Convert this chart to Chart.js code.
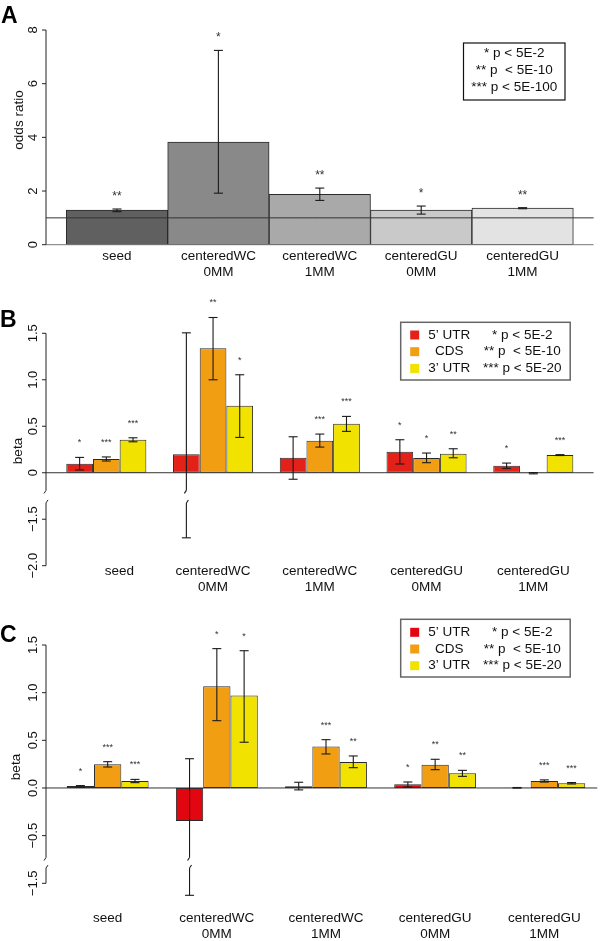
<!DOCTYPE html>
<html>
<head>
<meta charset="utf-8">
<title>odds ratio and beta by site type</title>
<script src="https://cdn.jsdelivr.net/npm/chart.js@4.4.1/dist/chart.umd.min.js"></script>
<style>
  html, body { margin: 0; padding: 0; background: #fff; }
  #page { position: relative; width: 600px; height: 941px; overflow: hidden; }
  .panel { position: absolute; left: 0; width: 600px; }
</style>
</head>
<body>
<div id="page">
  <div class="panel" style="top:0;height:290px"><canvas id="chartA"></canvas></div>
  <div class="panel" style="top:290px;height:320px"><canvas id="chartB"></canvas></div>
  <div class="panel" style="top:610px;height:331px"><canvas id="chartC"></canvas></div>
</div>
<script>
const FONT = "'Liberation Sans', Arial, Helvetica, sans-serif";
Chart.defaults.font.family = FONT;
Chart.defaults.color = '#111';

// site types along the x axis
const siteNames = [['seed'], ['centeredWC', '0MM'], ['centeredWC', '1MM'], ['centeredGU', '0MM'], ['centeredGU', '1MM']];
const siteNamesB = [['       seed'], ['centeredWC', '0MM'], ['centeredWC', '1MM'], ['centeredGU', '0MM'], ['centeredGU', '1MM']];

// panel A: odds ratio
const oddsRatio = [1.29, 3.82, 1.88, 1.29, 1.36];
const oddsLow   = [1.23, 1.92, 1.65, 1.14, 1.34];
const oddsHigh  = [1.33, 7.24, 2.11, 1.44, 1.38];
const oddsStars = ['**', '*', '**', '*', '**'];
const oddsTicks = [0, 2, 4, 6, 8];
const oddsTickLabels = ['0', '2', '4', '6', '8'];
const legendA = ['* p < 5E-2', '** p  < 5E-10', '*** p < 5E-100'];

// panels B and C: regions
const regionNames = ['5\u2019 UTR', 'CDS', '3\u2019 UTR'];
const legendBC = ['* p < 5E-2', '** p  < 5E-10', '*** p < 5E-20'];

// panel B: beta
const utr5B     = [0.097, 0.20, 0.16, 0.226, 0.075];
const utr5BLow  = [0.03, -1.70, -0.07, 0.094, 0.047];
const utr5BHigh = [0.165, 1.505, 0.387, 0.355, 0.104];
const utr5BStars = ['*', '', '', '*', '*'];
const cdsB      = [0.147, 1.34, 0.344, 0.158, -0.005];
const cdsBLow   = [0.126, 1.00, 0.276, 0.108, -0.012];
const cdsBHigh  = [0.17, 1.67, 0.416, 0.212, 0.002];
const cdsBStars = ['***', '**', '***', '*', ''];
const utr3B     = [0.355, 0.72, 0.527, 0.204, 0.19];
const utr3BLow  = [0.333, 0.38, 0.445, 0.161, 0.185];
const utr3BHigh = [0.376, 1.054, 0.606, 0.258, 0.195];
const utr3BStars = ['***', '*', '***', '**', '***'];
const betaTicksB = [-2.0, -1.5, 0, 0.5, 1.0, 1.5];
const betaTickLabelsB = ['\u22122.0', '\u22121.5', '0', '0.5', '1.0', '1.5'];

// panel C: beta
const utr5C     = [0.02, -0.346, 0.017, 0.038, 0.002];
const utr5CLow  = [0.01, -1.626, -0.02, 0.01, -0.001];
const utr5CHigh = [0.025, 0.307, 0.06, 0.063, 0.005];
const utr5CStars = ['*', '', '', '*', ''];
const cdsC      = [0.248, 1.067, 0.434, 0.245, 0.073];
const cdsCLow   = [0.22, 0.706, 0.357, 0.192, 0.062];
const cdsCHigh  = [0.276, 1.462, 0.507, 0.301, 0.085];
const cdsCStars = ['***', '*', '***', '**', '***'];
const utr3C     = [0.073, 0.969, 0.273, 0.154, 0.049];
const utr3CLow  = [0.056, 0.48, 0.213, 0.122, 0.042];
const utr3CHigh = [0.09, 1.44, 0.336, 0.185, 0.057];
const utr3CStars = ['***', '*', '**', '**', '***'];
const betaTicksC = [-1.5, -0.5, 0, 0.5, 1.0, 1.5];
const betaTickLabelsC = ['\u22121.5', '\u22120.5', '0.0', '0.5', '1.0', '1.5'];

const greys = ['#5f605f', '#898989', '#a9a9a9', '#c9c9c9', '#e3e3e3'];
const regionColors = ['#e32119', '#f29e12', '#f1e200'];

function buildPanel(canvasId, spec) {
    // values under the axis break are moved up by brk.shift
    const toPlot = v => (spec.brk && v < spec.brk.at) ? v + spec.brk.shift : v;

    const datasets = spec.series.map(s => ({
        data: s.values.map((v, i) => ({ x: i, y: toPlot(v) })),
        backgroundColor: s.color,
        borderColor: '#2a2a2a',
        borderWidth: 1,
        borderSkipped: false,
        categoryPercentage: spec.catPct,
        barPercentage: 1
    }));

    const deco = {
        id: 'deco' + canvasId,
        afterDatasetsDraw(chart) {
            const ctx = chart.ctx;
            const ys = chart.scales.y;
            const a = chart.chartArea;
            const px = v => ys.getPixelForValue(toPlot(v));
            const line = (x1, y1, x2, y2) => { ctx.beginPath(); ctx.moveTo(x1, y1); ctx.lineTo(x2, y2); ctx.stroke(); };
            // vertical line, cut where it crosses the axis break
            const vseg = (x, y1, y2) => {
                if (spec.brk) {
                    const gTop = ys.getPixelForValue(spec.brk.gapTop);
                    const gBot = ys.getPixelForValue(spec.brk.gapBot);
                    if (y1 < gTop && y2 > gBot) {
                        line(x, y1, x, gTop);
                        line(x, gTop, x - 2, gTop + 3);
                        line(x + 2, gBot - 3, x, gBot);
                        line(x, gBot, x, y2);
                        return;
                    }
                }
                line(x, y1, x, y2);
            };
            ctx.save();

            // reference lines
            spec.hlines.forEach(h => {
                ctx.strokeStyle = h.color;
                ctx.lineWidth = 1;
                line(a.left, px(h.v), a.right, px(h.v));
            });

            // error bars and significance stars
            spec.series.forEach((s, d) => {
                chart.getDatasetMeta(d).data.forEach((bar, i) => {
                    const top = px(s.high[i]);
                    const bot = px(s.low[i]);
                    ctx.strokeStyle = '#1a1a1a';
                    ctx.lineWidth = 1.1;
                    vseg(bar.x, top, bot);
                    line(bar.x - 4.5, top, bar.x + 4.5, top);
                    line(bar.x - 4.5, bot, bar.x + 4.5, bot);
                    if (s.stars[i]) {
                        ctx.fillStyle = '#333';
                        ctx.font = spec.starSize + 'px ' + FONT;
                        ctx.textAlign = 'center';
                        ctx.textBaseline = 'alphabetic';
                        ctx.fillText(s.stars[i], bar.x, top - spec.starLift);
                    }
                });
            });

            // y axis, drawn between first and last tick like the original
            const x0 = a.left;
            const tTop = px(spec.ticks[spec.ticks.length - 1]);
            const tBot = px(spec.ticks[0]);
            ctx.strokeStyle = '#222';
            ctx.lineWidth = 1;
            vseg(x0, tTop, tBot);
            ctx.fillStyle = '#111';
            ctx.font = '13px ' + FONT;
            ctx.textAlign = 'center';
            ctx.textBaseline = 'middle';
            spec.ticks.forEach((t, i) => {
                const p = px(t);
                line(x0 - 4, p, x0, p);
                ctx.save();
                ctx.translate(x0 - 12.5, p);
                ctx.rotate(-Math.PI / 2);
                ctx.fillText(spec.tickLabels[i], 0, 0);
                ctx.restore();
            });

            // axis title
            ctx.save();
            ctx.font = '13.5px ' + FONT;
            ctx.translate(spec.titlePos[0], spec.titlePos[1]);
            ctx.rotate(-Math.PI / 2);
            ctx.fillText(spec.title, 0, 0);
            ctx.restore();

            // legend box
            const lg = spec.legend;
            ctx.strokeStyle = lg.border;
            ctx.lineWidth = lg.lineWidth;
            ctx.strokeRect(lg.x, lg.y, lg.w, lg.h);
            ctx.font = '13.5px ' + FONT;
            ctx.textAlign = 'center';
            ctx.textBaseline = 'middle';
            lg.sig.forEach((t, i) => {
                const ry = lg.y + lg.row0 + i * lg.rowGap;
                if (lg.names) {
                    ctx.fillStyle = lg.colors[i];
                    ctx.fillRect(lg.x + 9.5, ry - 4.5, 9, 9);
                    ctx.fillStyle = '#111';
                    ctx.fillText(lg.names[i], lg.x + 48.5, ry);
                    ctx.fillText(t, lg.x + 121.5, ry);
                } else {
                    ctx.fillStyle = '#111';
                    ctx.fillText(t, lg.x + lg.w / 2, ry);
                }
            });

            // panel letter
            ctx.fillStyle = '#000';
            ctx.font = 'bold 23px ' + FONT;
            ctx.textAlign = 'left';
            ctx.textBaseline = 'alphabetic';
            ctx.fillText(spec.letter, spec.letterPos[0], spec.letterPos[1]);

            ctx.restore();
        }
    };

    return new Chart(document.getElementById(canvasId), {
        type: 'bar',
        data: { datasets },
        options: {
            responsive: true,
            maintainAspectRatio: false,
            animation: false,
            events: [],
            layout: { padding: { top: spec.padTop, right: spec.padRight, left: 0, bottom: 0 } },
            plugins: { legend: { display: false }, tooltip: { enabled: false } },
            scales: {
                x: {
                    type: 'linear',
                    min: spec.xMin,
                    max: spec.xMax,
                    offset: false,
                    grid: { display: false },
                    border: { display: false },
                    afterBuildTicks: s => { s.ticks = spec.labels.map((_, i) => ({ value: i })); },
                    afterFit: s => { s.height = spec.xAxisHeight; },
                    ticks: {
                        autoSkip: false,
                        maxRotation: 0,
                        minRotation: 0,
                        padding: spec.labelPad,
                        color: '#111',
                        font: { size: 13.5, lineHeight: 1.17 },
                        callback: v => spec.labels[v]
                    }
                },
                y: {
                    type: 'linear',
                    min: spec.yMin,
                    max: spec.yMax,
                    grid: { display: false },
                    border: { display: false },
                    ticks: { display: false },
                    afterFit: s => { s.width = 46; }
                }
            }
        },
        plugins: [deco]
    });
}

buildPanel('chartA', {
    letter: 'A', letterPos: [1, 23],
    labels: siteNames,
    series: [{ values: oddsRatio, low: oddsLow, high: oddsHigh, stars: oddsStars, color: greys }],
    catPct: 1,
    xMin: -0.7, xMax: 4.7, yMin: 0, yMax: 8,
    padTop: 30, padRight: 6.4, xAxisHeight: 45.3, labelPad: -4,
    ticks: oddsTicks, tickLabels: oddsTickLabels,
    title: 'odds ratio', titlePos: [19, 120],
    hlines: [{ v: 0, color: '#777' }, { v: 1, color: '#333' }],
    starSize: 12, starLift: 9,
    brk: null,
    legend: { x: 463.5, y: 43, w: 101.5, h: 57, row0: 10.7, rowGap: 16.7, border: '#111', lineWidth: 1.2, sig: legendA }
});

buildPanel('chartB', {
    letter: 'B', letterPos: [0, 37],
    labels: siteNamesB,
    series: [
        { values: utr5B, low: utr5BLow, high: utr5BHigh, stars: utr5BStars, color: regionColors[0] },
        { values: cdsB, low: cdsBLow, high: cdsBHigh, stars: cdsBStars, color: regionColors[1] },
        { values: utr3B, low: utr3BLow, high: utr3BHigh, stars: utr3BStars, color: regionColors[2] }
    ],
    catPct: 0.75,
    xMin: -0.565, xMax: 4.565, yMin: -1.0, yMax: 1.5,
    padTop: 43.3, padRight: 6.4, xAxisHeight: 44.3, labelPad: -10.5,
    ticks: betaTicksB, tickLabels: betaTickLabelsB,
    title: 'beta', titlePos: [18, 161],
    hlines: [{ v: 0, color: '#333' }],
    starSize: 9, starLift: 12,
    brk: { at: -1.26, shift: 1.0, gapTop: -0.19, gapBot: -0.325 },
    legend: { x: 400.7, y: 32.3, w: 169.5, h: 57.7, row0: 12.7, rowGap: 16.7, border: '#666', lineWidth: 1.5,
              names: regionNames, colors: regionColors, sig: legendBC }
});

buildPanel('chartC', {
    letter: 'C', letterPos: [0, 32],
    labels: siteNames,
    series: [
        { values: utr5C, low: utr5CLow, high: utr5CHigh, stars: utr5CStars, color: '#e1060f' },
        { values: cdsC, low: cdsCLow, high: cdsCHigh, stars: cdsCStars, color: regionColors[1] },
        { values: utr3C, low: utr3CLow, high: utr3CHigh, stars: utr3CStars, color: regionColors[2] }
    ],
    catPct: 0.75,
    xMin: -0.565, xMax: 4.485, yMin: -1.0, yMax: 1.5,
    padTop: 35, padRight: 0, xAxisHeight: 57.7, labelPad: 19.3,
    ticks: betaTicksC, tickLabels: betaTickLabelsC,
    title: 'beta', titlePos: [16, 157],
    hlines: [{ v: 0, color: '#333' }],
    starSize: 9, starLift: 12,
    brk: { at: -1.28, shift: 0.5, gapTop: -0.73, gapBot: -0.84 },
    legend: { x: 400.7, y: 9.3, w: 169.5, h: 57.7, row0: 13, rowGap: 16.7, border: '#666', lineWidth: 1.5,
              names: regionNames, colors: ['#e1060f', regionColors[1], regionColors[2]], sig: legendBC }
});
</script>
</body>
</html>
